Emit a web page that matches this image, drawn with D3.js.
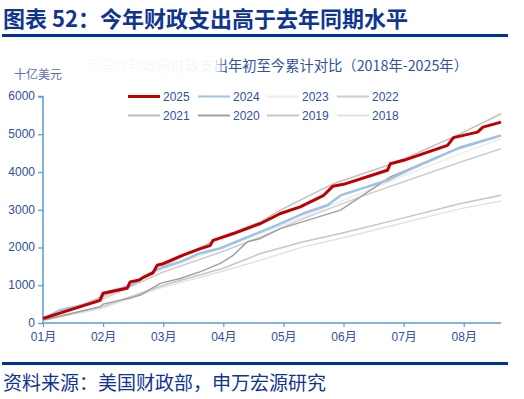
<!DOCTYPE html>
<html>
<head>
<meta charset="utf-8">
<script src="https://cdn.jsdelivr.net/npm/d3@7"></script>
<style>
  body { margin: 0; background: #fff; }
  text { font-family: "Liberation Sans", Arial, "Noto Sans CJK SC", sans-serif; }
  .cjk { font-family: "Noto Sans CJK SC", sans-serif; }
</style>
</head>
<body>
<div id="chart"></div>
<script>
// x = month position (0 = start of Jan), y = cumulative outlays, bn USD
const s2025 = [[0,120],[0.28,260],[0.95,600],[1.0,790],[1.4,920],[1.45,1090],[1.6,1140],[1.67,1210],[1.83,1330],[1.9,1530],[2.0,1570],[2.33,1800],[2.62,1970],[2.78,2050],[2.83,2190],[3.17,2370],[3.62,2635],[3.95,2900],[4.28,3075],[4.67,3383],[4.82,3620],[5.0,3674],[5.73,4045],[5.78,4220],[6.0,4310],[6.73,4705],[6.83,4910],[7.23,5057],[7.32,5190],[7.62,5321]];
const s2024 = [[0,100],[0.28,340],[0.9,565],[1.0,790],[1.45,980],[1.78,1320],[1.95,1450],[2.28,1620],[2.62,1850],[2.95,1980],[3.62,2415],[3.95,2635],[4.33,2900],[4.73,3120],[4.95,3380],[5.73,3780],[6.07,4045],[6.83,4575],[6.95,4660],[7.62,4970]];
const s2023 = [[0,100],[1,720],[2,1420],[3,2000],[4,2600],[5,3250],[6,3900],[7,4520],[7.62,4880]];
const s2022 = [[0,90],[1,640],[2,1350],[3,1900],[3.62,2280],[4.33,2765],[5.28,3340],[6.07,3780],[6.95,4265],[7.62,4617]];
const s2021 = [[0,110],[0.5,380],[1.0,700],[1.5,1030],[2.0,1500],[2.33,1780],[2.62,2000],[3.0,2300],[3.62,2680],[3.95,2990],[4.33,3295],[4.83,3690],[5.73,4175],[6.07,4395],[6.95,5015],[7.62,5543]];
const s2020 = [[0,80],[0.95,430],[1.0,500],[1.45,660],[1.62,740],[1.95,1050],[2.28,1180],[2.62,1360],[2.95,1580],[3.17,1800],[3.4,2150],[3.62,2240],[3.95,2500],[4.95,2990],[5.78,3870],[6.8,4560],[7.62,4960]];
const s2019 = [[0,70],[1,440],[2,1000],[3,1450],[3.62,1840],[4.33,2150],[4.95,2370],[5.95,2765],[6.95,3165],[7.62,3383]];
const s2018 = [[0,60],[1,400],[2,950],[3,1380],[3.62,1665],[4.33,2017],[4.95,2240],[5.95,2635],[6.95,3030],[7.62,3233]];

const years = ["2025","2024","2023","2022","2021","2020","2019","2018"];
const monthLabels = ["01月","02月","03月","04月","05月","06月","07月","08月"];
const yTicks = [0,1000,2000,3000,4000,5000,6000];

const series = [
  { year: "2025", data: s2025, color: "#c00000", width: 3 },
  { year: "2024", data: s2024, color: "#9dc3e6", width: 2.5 },
  { year: "2023", data: s2023, color: "#ececec", width: 1.5 },
  { year: "2022", data: s2022, color: "#cdcdcd", width: 1.5 },
  { year: "2021", data: s2021, color: "#bfbfbf", width: 1.5 },
  { year: "2020", data: s2020, color: "#a0a0a0", width: 1.5 },
  { year: "2019", data: s2019, color: "#c6c6c6", width: 1.5 },
  { year: "2018", data: s2018, color: "#e2e2e2", width: 1.5 }
];

const W = 524, H = 399;
const svg = d3.select("#chart").append("svg").attr("width", W).attr("height", H);

const navy = "#0f3591";
const textBlue = "#3150a0";

// title + rules
svg.append("text").attr("class", "cjk")
   .attr("x", 3).attr("y", 27)
   .attr("font-size", 22).attr("font-weight", "bold")
   .attr("fill", navy)
   .text("图表 52：今年财政支出高于去年同期水平");
svg.append("rect").attr("x", 2).attr("y", 34).attr("width", 506).attr("height", 3).attr("fill", "#00339a");
svg.append("rect").attr("x", 2).attr("y", 362).attr("width", 506).attr("height", 3).attr("fill", "#00339a");
svg.append("text").attr("class", "cjk")
   .attr("x", 3).attr("y", 390)
   .attr("font-size", 19).attr("fill", navy)
   .text("资料来源：美国财政部，申万宏源研究");

// subtitle, left part faded
const defs = svg.append("defs");
const grad = defs.append("linearGradient").attr("id", "fade")
   .attr("gradientUnits", "userSpaceOnUse")
   .attr("x1", 85).attr("x2", 226).attr("y1", 0).attr("y2", 0);
grad.append("stop").attr("offset", 0).attr("stop-color", textBlue).attr("stop-opacity", 0.03);
grad.append("stop").attr("offset", 0.92).attr("stop-color", textBlue).attr("stop-opacity", 0.06);
grad.append("stop").attr("offset", 1).attr("stop-color", textBlue).attr("stop-opacity", 1);
svg.append("text").attr("class", "cjk")
   .attr("x", 85).attr("y", 71)
   .attr("font-size", 14.3).attr("fill", "url(#fade)")
   .text("美国联邦政府财政支出年初至今累计对比（2018年-2025年）");

svg.append("text").attr("class", "cjk")
   .attr("x", 14).attr("y", 79)
   .attr("font-size", 12).attr("fill", "#5a6fae")
   .text("十亿美元");

// scales
const x = d3.scaleLinear().domain([0, 7.62]).range([43, 501]);
const y = d3.scaleLinear().domain([0, 6000]).range([323, 96.5]);

const axisColor = "#5b9bd5";

const yAxis = svg.append("g").attr("transform", "translate(43,0)")
   .call(d3.axisLeft(y).tickValues(yTicks).tickSize(5).tickPadding(3).tickFormat(d3.format("d")));
const xAxis = svg.append("g").attr("transform", "translate(0,323)")
   .call(d3.axisBottom(x).tickValues(d3.range(monthLabels.length)).tickSize(4).tickPadding(5)
         .tickFormat(i => monthLabels[i]));
[yAxis, xAxis].forEach(g => {
  g.select(".domain").attr("stroke", axisColor).attr("stroke-width", 1.5);
  g.selectAll(".tick line").attr("stroke", axisColor).attr("stroke-width", 1.2);
  g.selectAll(".tick text").attr("fill", textBlue).attr("font-size", 12)
   .attr("font-family", "'Liberation Sans', 'Noto Sans CJK SC', sans-serif");
});
yAxis.selectAll(".tick text").attr("dy", "0.28em");
yAxis.select(".domain").attr("d", "M-5,96.5H0V323");
xAxis.select(".domain").attr("d", "M43,0H501");

// lines
const line = d3.line().x(d => x(d[0])).y(d => y(d[1]));
const drawOrder = ["2023","2018","2019","2022","2021","2020","2024","2025"];
drawOrder.forEach(yr => {
  const s = series.find(d => d.year === yr);
  svg.append("path")
     .datum(s.data)
     .attr("d", line)
     .attr("fill", "none")
     .attr("stroke", s.color)
     .attr("stroke-width", s.width)
     .attr("stroke-linejoin", "round");
});

// legend, 4 columns x 2 rows
const colX = [128, 198, 267, 337];
const rowY = [96.5, 115.5];
const legend = svg.append("g");
series.forEach((s, i) => {
  const g = legend.append("g")
     .attr("transform", `translate(${colX[i % 4]}, ${rowY[Math.floor(i / 4)]})`);
  g.append("line").attr("x1", 0).attr("x2", 32).attr("y1", 0).attr("y2", 0)
   .attr("stroke", s.color).attr("stroke-width", s.year === "2025" ? 3 : 2);
  g.append("text").attr("x", 35).attr("y", 4.5)
   .attr("font-size", 12).attr("fill", textBlue)
   .text(s.year);
});
</script>
</body>
</html>
